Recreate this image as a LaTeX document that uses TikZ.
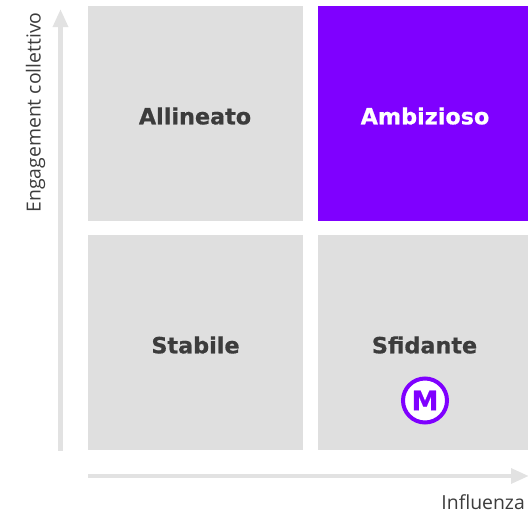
\documentclass[tikz,border=0pt]{standalone}
\usepackage{fontspec}
\setmainfont{DejaVu Sans}
\newfontfamily\labelfont{Open Sans}
\newfontfamily\heavyfont[FakeBold=0.7]{DejaVu Sans Bold}
\usetikzlibrary{arrows.meta}
\definecolor{boxgrey}{HTML}{DFDFDF}
\definecolor{axisgrey}{HTML}{E2E2E2}
\definecolor{purp}{HTML}{7F00FF}
\definecolor{txt}{HTML}{3C3C3C}
\tikzset{
  cell/.style={fill=boxgrey,draw=none,minimum width=#1,minimum height=214.5pt,inner sep=0pt,anchor=north west},
  celltext/.style={font=\heavyfont\fontsize{22.3pt}{24pt}\selectfont,text=txt,inner sep=0pt},
  axislabel/.style={font=\labelfont\fontsize{19.4pt}{22pt}\selectfont,text=txt,inner sep=0pt},
  axisline/.style={draw=axisgrey,line width=4.5pt,-{Triangle[length=18pt,width=14.5pt]}}
}
\begin{document}
\begin{tikzpicture}[x=1pt,y=-1pt]
\useasboundingbox (0,0) rectangle (528,515);
\node[cell=215pt] (a) at (88,6) {};
\node[cell=210pt,fill=purp] (b) at (318,6) {};
\node[cell=215pt] (c) at (88,235) {};
\node[cell=210pt] (d) at (318,235) {};
\node[celltext] at (195,116) {Allineato};
\node[celltext,text=white] at (425,116) {Ambizioso};
\node[celltext] at (195.5,345) {Stabile};
\node[celltext] at (424.5,345) {Sfidante};
\node[circle,draw=purp,fill=white,line width=4pt,minimum size=44pt,inner sep=0pt,text=purp,font=\heavyfont\fontsize{27pt}{29pt}\selectfont] (m) at (425,400.5) {M};
\coordinate (ys) at (60.5,451);
\coordinate (ye) at (60.5,9);
\coordinate (xs) at (88,476);
\coordinate (xe) at (529,476);
\draw[axisline] (ys) -- (ye);
\draw[axisline] (xs) -- (xe);
\node[axislabel,rotate=90] (yl) at (35.5,112.5) {Engagement collettivo};
\node[axislabel,anchor=east] (xl) at (525,502) {Influenza};
\end{tikzpicture}
\end{document}
